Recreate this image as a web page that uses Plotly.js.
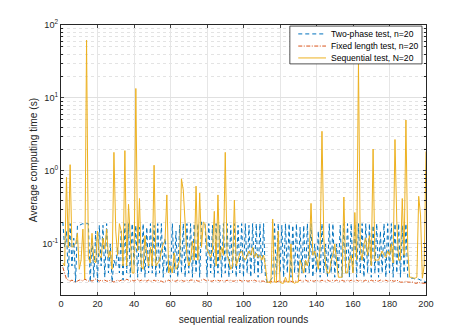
<!DOCTYPE html>
<html>
<head>
<meta charset="utf-8">
<script src="https://cdn.plot.ly/plotly-3.0.1.min.js"></script>
<style>html,body{margin:0;padding:0;background:#fff;}#chart{width:470px;height:332px;}</style>
</head>
<body>
<div id="chart"></div>
<script>
// rounds 1..200
const rounds = Array.from({length: 200}, (_, i) => i + 1);

const twoPhase = [
0.2,0.09,0.15,0.035,0.19,0.05,0.12,0.03,0.18,0.18,
0.185,0.19,0.185,0.19,0.19,0.03,0.12,0.035,0.15,0.03,
0.18,0.05,0.18,0.035,0.19,0.04,0.1,0.03,0.06,0.05,
0.09,0.04,0.15,0.032,0.19,0.04,0.19,0.035,0.19,0.05,
0.18,0.035,0.17,0.04,0.19,0.035,0.17,0.04,0.19,0.04,
0.18,0.035,0.19,0.04,0.19,0.035,0.12,0.04,0.07,0.035,
0.19,0.04,0.15,0.035,0.18,0.04,0.19,0.035,0.19,0.04,
0.19,0.035,0.19,0.04,0.19,0.035,0.2,0.19,0.18,0.035,
0.19,0.04,0.18,0.035,0.19,0.04,0.18,0.035,0.19,0.04,
0.19,0.035,0.18,0.04,0.19,0.035,0.18,0.04,0.19,0.035,
0.19,0.04,0.18,0.035,0.19,0.04,0.19,0.035,0.19,0.04,
0.19,0.035,0.03,0.03,0.032,0.035,0.19,0.035,0.19,0.04,
0.18,0.035,0.19,0.04,0.19,0.035,0.18,0.04,0.19,0.035,
0.17,0.04,0.18,0.035,0.19,0.04,0.19,0.035,0.1,0.04,
0.15,0.035,0.19,0.04,0.1,0.035,0.19,0.04,0.19,0.035,
0.1,0.04,0.18,0.035,0.19,0.04,0.19,0.035,0.19,0.04,
0.19,0.035,0.19,0.04,0.19,0.035,0.19,0.04,0.19,0.035,
0.18,0.04,0.19,0.035,0.15,0.04,0.19,0.035,0.19,0.04,
0.19,0.035,0.19,0.04,0.19,0.035,0.18,0.04,0.19,0.035,
0.035,0.034,0.034,0.033,0.033,0.033,0.032,0.032,0.031,0.03
];

const fixedLength = [
0.048,0.038,0.033,0.032,0.031,0.032,0.031,0.030,0.031,0.032,
0.032,0.031,0.033,0.032,0.031,0.032,0.031,0.032,0.033,0.032,
0.031,0.032,0.031,0.032,0.031,0.031,0.032,0.031,0.030,0.031,
0.032,0.031,0.032,0.032,0.031,0.033,0.032,0.031,0.032,0.031,
0.032,0.033,0.031,0.032,0.031,0.032,0.031,0.032,0.031,0.031,
0.032,0.031,0.032,0.031,0.031,0.030,0.031,0.031,0.032,0.031,
0.032,0.031,0.031,0.032,0.031,0.032,0.031,0.031,0.032,0.031,
0.032,0.032,0.031,0.032,0.031,0.031,0.032,0.033,0.032,0.031,
0.032,0.031,0.031,0.032,0.031,0.032,0.031,0.032,0.031,0.031,
0.032,0.031,0.032,0.031,0.031,0.032,0.031,0.032,0.031,0.031,
0.032,0.031,0.031,0.032,0.031,0.032,0.031,0.031,0.031,0.031,
0.031,0.030,0.030,0.030,0.031,0.030,0.031,0.030,0.031,0.031,
0.030,0.031,0.031,0.030,0.031,0.031,0.030,0.031,0.031,0.031,
0.032,0.031,0.031,0.032,0.031,0.031,0.032,0.031,0.031,0.032,
0.031,0.031,0.032,0.031,0.031,0.032,0.031,0.031,0.032,0.031,
0.032,0.031,0.031,0.032,0.031,0.031,0.032,0.031,0.032,0.031,
0.031,0.032,0.031,0.032,0.031,0.031,0.032,0.031,0.031,0.032,
0.031,0.032,0.031,0.031,0.032,0.031,0.031,0.032,0.031,0.031,
0.032,0.031,0.031,0.032,0.031,0.030,0.030,0.030,0.031,0.030,
0.030,0.030,0.030,0.029,0.029,0.030,0.029,0.029,0.029,0.029
];

const sequential = [
0.055,0.05,0.82,0.09,1.22,0.09,0.095,0.1,0.14,0.045,
0.06,0.16,0.033,62,0.065,0.055,0.14,0.06,0.055,0.15,
0.07,0.065,0.12,0.085,0.16,0.065,0.08,0.045,1.8,0.15,
0.07,0.19,0.15,0.05,1.9,0.05,0.35,0.12,0.04,0.04,
13.5,0.08,0.42,0.05,0.045,0.13,0.07,0.05,0.09,0.05,
1.2,0.05,0.055,0.06,0.08,0.1,0.11,0.47,0.04,0.05,
0.04,0.075,0.045,0.05,0.06,0.78,0.55,0.2,0.07,0.05,
0.06,0.11,0.06,0.62,0.06,0.5,0.09,0.2,0.19,0.085,
0.075,0.065,0.08,0.28,0.05,0.47,0.06,0.09,0.07,1.8,
0.07,0.06,0.045,0.05,0.4,0.05,0.06,0.075,0.08,0.065,
0.06,0.07,0.08,0.07,0.09,0.065,0.075,0.065,0.07,0.06,
0.07,0.05,0.03,0.03,0.029,0.22,0.03,0.03,0.15,0.03,
0.029,0.029,0.035,0.03,0.03,0.1,0.03,0.029,0.03,0.03,
0.06,0.05,0.04,0.06,0.05,0.07,0.36,0.07,0.08,0.065,
0.045,0.09,3.5,0.12,0.05,0.04,0.04,0.06,0.07,0.1,
0.06,0.035,0.035,0.035,0.44,0.04,0.04,0.06,0.07,0.04,
0.27,0.06,31,0.08,0.06,0.1,0.12,0.07,0.13,0.05,
2.0,0.06,0.06,0.06,0.07,0.08,0.07,0.065,0.08,0.07,
0.1,0.055,2.7,0.2,0.06,0.06,0.42,0.07,5.0,0.08,
0.035,0.035,0.034,0.034,0.035,0.45,0.25,0.034,0.05,1.85
];

const seriesNames = ['Two-phase test, n=20', 'Fixed length test, n=20', 'Sequential test, N=20'];
const seriesColors = ['#0072BD', '#D95319', '#EDB120'];
const seriesDash = ['4px,3px', '4px,1.5px,1px,1.5px', 'solid'];
const yTickVals = [0.1, 1, 10, 100];
const yTickText = ['10<sup>-1</sup>', '10<sup>0</sup>', '10<sup>1</sup>', '10<sup>2</sup>'];
const yMinorVals = [0.03,0.04,0.05,0.06,0.07,0.08,0.09,
  0.2,0.3,0.4,0.5,0.6,0.7,0.8,0.9,
  2,3,4,5,6,7,8,9,
  20,30,40,50,60,70,80,90];
const xTickVals = [0, 20, 40, 60, 80, 100, 120, 140, 160, 180, 200];

const seriesData = [twoPhase, fixedLength, sequential];
const traces = seriesData.map((ys, i) => ({
  x: rounds, y: ys, name: seriesNames[i], type: 'scatter', mode: 'lines',
  line: {color: seriesColors[i], width: 1, dash: seriesDash[i]}
}));

// Legend drawn manually (compact, MATLAB-like)
const legBox = {x0: 0.627, x1: 0.989, y0: 0.856, y1: 0.996};
const legRows = [0.967, 0.922, 0.878];
const shapes = [{type: 'rect', xref: 'paper', yref: 'paper', x0: legBox.x0, x1: legBox.x1, y0: legBox.y0, y1: legBox.y1,
  line: {color: '#262626', width: 0.8}, fillcolor: '#ffffff', opacity: 1, layer: 'above'}];
const annotations = [];
seriesNames.forEach((name, i) => {
  shapes.push({type: 'line', xref: 'paper', yref: 'paper', x0: 0.650, x1: 0.726, y0: legRows[i], y1: legRows[i],
    line: {color: seriesColors[i], width: 1, dash: seriesDash[i]}, layer: 'above'});
  annotations.push({xref: 'paper', yref: 'paper', x: 0.733, y: legRows[i], xanchor: 'left', yanchor: 'middle',
    text: name, showarrow: false, font: {family: 'Liberation Sans, Arial, sans-serif', size: 8.6, color: '#000'}});
});

const tickFont = {family: 'Liberation Sans, Arial, sans-serif', size: 9.2, color: '#262626'};
const titleFont = {family: 'Liberation Sans, Arial, sans-serif', size: 10.2, color: '#262626'};

const layout = {
  width: 470, height: 332,
  margin: {l: 61, r: 44, t: 25, b: 37},
  paper_bgcolor: '#fff', plot_bgcolor: '#fff',
  font: tickFont,
  showlegend: false,
  shapes: shapes,
  annotations: annotations,
  xaxis: {
    range: [0, 200], tickvals: xTickVals, ticks: 'inside', ticklen: 3,
    showline: true, mirror: 'ticks', linecolor: '#262626', linewidth: 1,
    showgrid: true, gridcolor: '#e6e6e6', zeroline: false,
    tickfont: tickFont,
    title: {text: 'sequential realization rounds', font: titleFont, standoff: 7}
  },
  yaxis: {
    type: 'log', range: [Math.log10(0.02), 2],
    tickvals: yTickVals, ticktext: yTickText, ticks: 'inside', ticklen: 3,
    showline: true, mirror: 'ticks', linecolor: '#262626', linewidth: 1,
    showgrid: true, gridcolor: '#e0e0e0', zeroline: false,
    tickfont: tickFont,
    minor: {tickmode: 'array', tickvals: yMinorVals, showgrid: true, gridcolor: '#e3e3e3', griddash: 'dot', ticks: 'inside', ticklen: 2, tickcolor: '#262626'},
    title: {text: 'Average computing time (s)', font: titleFont, standoff: 2}
  }
};

Plotly.newPlot('chart', traces, layout, {displayModeBar: false, staticPlot: true});
</script>
</body>
</html>
